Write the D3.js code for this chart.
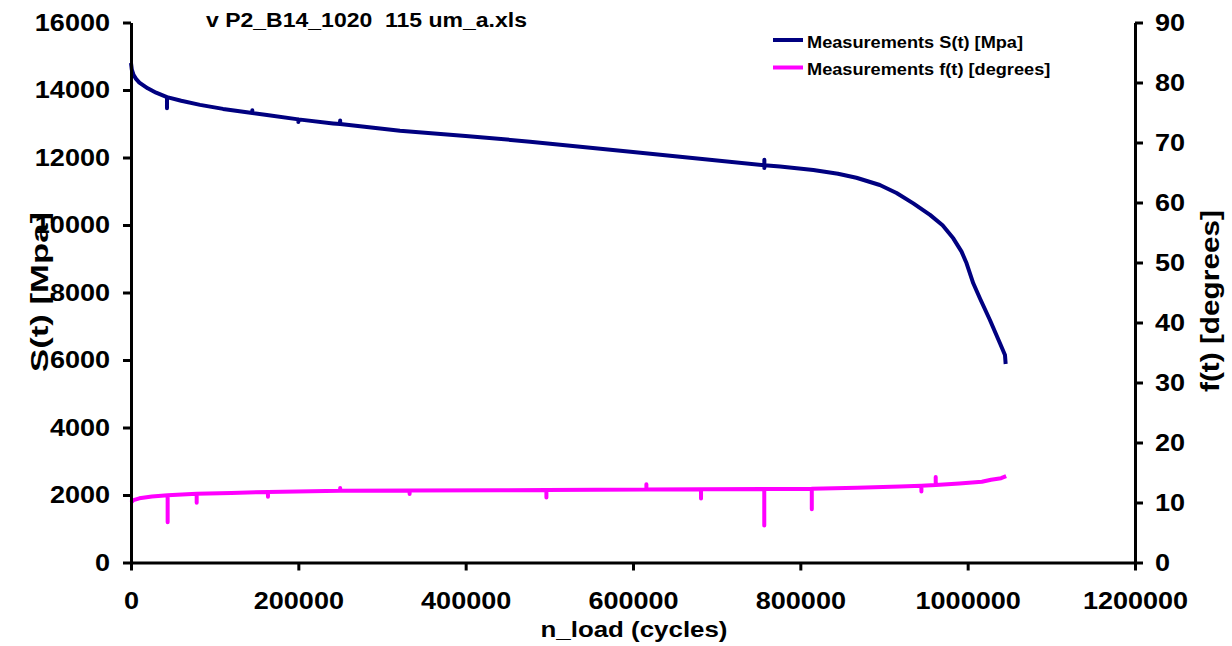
<!DOCTYPE html>
<html>
<head>
<meta charset="utf-8">
<script src="https://cdn.jsdelivr.net/npm/d3@7"></script>
<style>
  html, body { margin: 0; padding: 0; background: #fff; }
  svg { display: block; }
  text { font-family: "Liberation Sans", Arial, sans-serif; font-weight: bold; fill: #000; }
</style>
</head>
<body>
<svg id="chart" width="1232" height="646"></svg>
<script>
// ---- data ----
const title = "v P2_B14_1020  115 um_a.xls";
const xLabel = "n_load (cycles)";
const yLeftLabel = "S(t) [Mpa]";
const yRightLabel = "f(t) [degrees]";
const seriesNames = ["Measurements S(t) [Mpa]", "Measurements f(t) [degrees]"];

const xTicks = [0, 200000, 400000, 600000, 800000, 1000000, 1200000];
const yLeftTicks = [0, 2000, 4000, 6000, 8000, 10000, 12000, 14000, 16000];
const yRightTicks = [0, 10, 20, 30, 40, 50, 60, 70, 80, 90];

// S(t) measurements: cycles, MPa
const sCycles = [0, 1000, 3000, 6000, 10000, 20000, 30000, 43000, 43000, 43000, 60000, 82500, 110000, 145000, 145000, 145000, 162500, 200000, 200000, 200000,
  241500, 250000, 250000, 250000, 321500, 400000, 476900, 600000, 656200, 757000, 757000, 757000, 757000, 775700,
  815500, 845000, 867000, 895000, 915000, 935000, 955000, 970000, 982800, 992700, 998700, 1006700, 1014600, 1026600, 1038600, 1044600, 1045400];
const sValues = [14800, 14600, 14450, 14330, 14220, 14050, 13920, 13790, 13460, 13790, 13680, 13560, 13440, 13320, 13400, 13320, 13260, 13130, 13050, 13130,
  13010, 12990, 13100, 12990, 12795, 12640, 12470, 12160, 12020, 11770, 11930, 11690, 11770, 11730,
  11630, 11520, 11400, 11185, 10950, 10640, 10300, 9990, 9605, 9210, 8865, 8273, 7828, 7185, 6495, 6148, 5882];

// f(t) measurements: cycles, degrees
const fCycles = [0, 3000, 10000, 25000, 43800, 43800, 43800, 78500, 78500, 78500, 120000, 163700, 163700, 163700,
  250000, 250000, 250000, 333000, 333000, 333000, 441000, 496500, 496500, 496500, 616000, 616000, 616000,
  681300, 681300, 681300, 756900, 756900, 756900, 813700, 813700, 813700, 867800, 919000, 944700, 944700, 944700,
  961800, 961800, 961800, 990000, 1017000, 1028000, 1040000, 1046000];
const fValues = [10.0, 10.4, 10.7, 11.0, 11.2, 6.7, 11.2, 11.45, 9.97, 11.45, 11.6, 11.75, 10.97, 11.75,
  11.95, 12.4, 11.95, 12.0, 11.4, 12.0, 12.05, 12.1, 10.83, 12.1, 12.15, 13.03, 12.15,
  12.2, 10.65, 12.2, 12.25, 6.18, 12.25, 12.3, 8.87, 12.3, 12.45, 12.65, 12.8, 11.85, 12.8,
  12.9, 14.23, 12.9, 13.15, 13.45, 13.8, 14.05, 14.4];

// ---- layout ----
const W = 1232, H = 646;
const m = { left: 131, right: 97, top: 22.5, bottom: 83.5 };
const svg = d3.select("#chart");
const g = svg.append("g");

const x = d3.scaleLinear().domain([0, 1200000]).range([m.left, W - m.right]);
const yL = d3.scaleLinear().domain([0, 16000]).range([H - m.bottom, m.top]);
const yR = d3.scaleLinear().domain([0, 90]).range([H - m.bottom, m.top]);

const stretch = 1.15;
function widen(sel, f) {
  sel.each(function () {
    const len = this.getComputedTextLength();
    this.setAttribute("textLength", len * f);
    this.setAttribute("lengthAdjust", "spacingAndGlyphs");
  });
}

// ---- series ----
const sData = sCycles.map((c, i) => [c, sValues[i]]);
const fData = fCycles.map((c, i) => [c, fValues[i]]);

g.append("path").datum(fData)
  .attr("fill", "none").attr("stroke", "#FF00FF").attr("stroke-width", 4)
  .attr("stroke-linejoin", "round")
  .attr("d", d3.line().x(d => x(d[0])).y(d => yR(d[1])));

g.append("path").datum(sData)
  .attr("fill", "none").attr("stroke", "#000080").attr("stroke-width", 4)
  .attr("stroke-linejoin", "round")
  .attr("d", d3.line().x(d => x(d[0])).y(d => yL(d[1])));

// ---- axes ----
const fs = 23.5;
function styleAxis(a) {
  a.select(".domain").attr("stroke", "#000").attr("stroke-width", 3);
  a.selectAll(".tick line").attr("stroke", "#000").attr("stroke-width", 3);
  a.selectAll(".tick text").attr("font-size", fs).style("font-family", '"Liberation Sans", Arial, sans-serif').style("font-weight", "bold");
}

const ax = g.append("g").attr("transform", `translate(0,${H - m.bottom})`)
  .call(d3.axisBottom(x).tickValues(xTicks).tickSize(8).tickSizeOuter(0).tickPadding(22).tickFormat(d3.format("d")));
styleAxis(ax);

const axL = g.append("g").attr("transform", `translate(${m.left},0)`)
  .call(d3.axisLeft(yL).tickValues(yLeftTicks).tickSize(8).tickSizeOuter(0).tickPadding(13).tickFormat(d3.format("d")));
styleAxis(axL);

const axR = g.append("g").attr("transform", `translate(${W - m.right},0)`)
  .call(d3.axisRight(yR).tickValues(yRightTicks).tickSize(8).tickSizeOuter(0).tickPadding(12).tickFormat(d3.format("d")));
styleAxis(axR);

widen(ax.selectAll(".tick text"), stretch);
widen(axL.selectAll(".tick text"), stretch);
widen(axR.selectAll(".tick text"), stretch);

// ---- titles ----
const t = g.append("text").attr("x", 206).attr("y", 27).attr("font-size", 20)
  .style("white-space", "pre").text(title);
widen(t, stretch);

const xl = g.append("text").attr("x", (m.left + W - m.right) / 2 + 1).attr("y", 637)
  .attr("text-anchor", "middle").attr("font-size", 22.5).text(xLabel);
widen(xl, stretch);

g.append("text").attr("transform", `translate(48,292) rotate(-90)`)
  .attr("text-anchor", "middle").attr("font-size", 24)
  .attr("textLength", 160).attr("lengthAdjust", "spacingAndGlyphs").text(yLeftLabel);

g.append("text").attr("transform", `translate(1219,301) rotate(-90)`)
  .attr("text-anchor", "middle").attr("font-size", 25)
  .attr("textLength", 182).attr("lengthAdjust", "spacingAndGlyphs").text(yRightLabel);

// ---- legend ----
const legColors = ["#000080", "#FF00FF"];
const leg = g.append("g");
seriesNames.forEach((name, i) => {
  const yy = 40 + i * 27.5;
  leg.append("line").attr("x1", 773).attr("x2", 803).attr("y1", yy).attr("y2", yy)
    .attr("stroke", legColors[i]).attr("stroke-width", 4);
  const tt = leg.append("text").attr("x", 807).attr("y", yy + 7.5).attr("font-size", 15.8).text(name);
  widen(tt, stretch);
});
</script>
</body>
</html>
